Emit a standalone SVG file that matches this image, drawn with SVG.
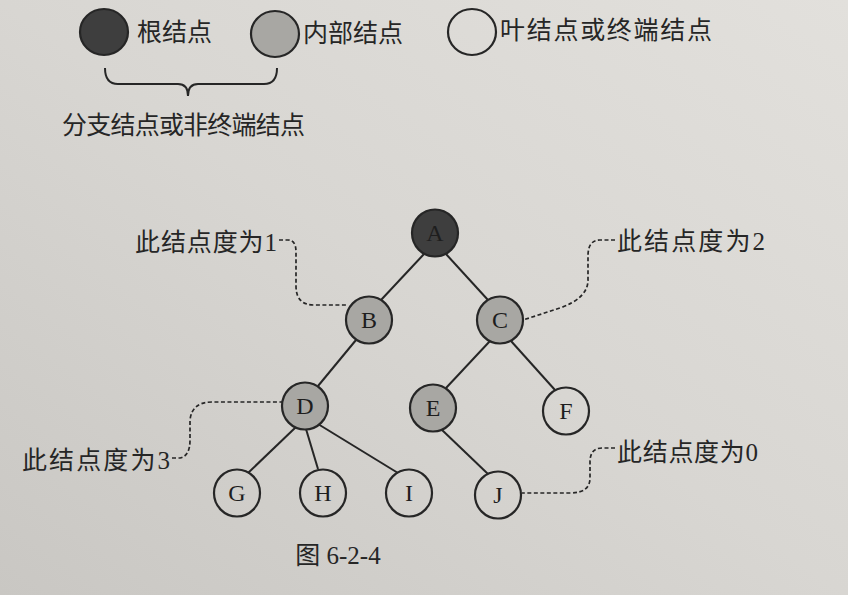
<svg xmlns="http://www.w3.org/2000/svg" width="848" height="595" viewBox="0 0 848 595">
<defs>
<linearGradient id="bg" x1="0" y1="1" x2="1" y2="0">
<stop offset="0" stop-color="#c9c7c3"/>
<stop offset="0.5" stop-color="#d8d6d2"/>
<stop offset="1" stop-color="#e2e0dc"/>
</linearGradient>
<style>
.n{stroke:#262626;stroke-width:2.2}
.root{fill:#3e3e3e}
.inner{fill:#a8a7a3}
.leaf{fill:none}
.lbl{font-family:"Liberation Serif","Noto Sans CJK SC",serif;font-size:24px;fill:#1e1e1e;text-anchor:middle}
.cjk{font-family:"Noto Sans CJK SC",sans-serif;font-size:25px;fill:#262626}
.deg{font-family:"Liberation Serif","Noto Sans CJK SC",serif;font-size:25px;fill:#262626}
.e{stroke:#262626;stroke-width:2;fill:none}
.d{stroke:#262626;stroke-width:1.7;fill:none;stroke-dasharray:4 2.5}
</style>
</defs>
<rect width="848" height="595" fill="url(#bg)"/>

<g id="legend">
<ellipse class="n root" cx="104" cy="32" rx="24" ry="23"/>
<text class="cjk" x="137" y="41">根结点</text>
<ellipse class="n inner" cx="275" cy="34" rx="24" ry="23"/>
<text class="cjk" x="303" y="42">内部结点</text>
<ellipse class="n leaf" cx="472" cy="32" rx="24" ry="23"/>
<text class="cjk" x="500" y="39" textLength="212">叶结点或终端结点</text>
<path class="e" stroke-width="1.6" d="M105,68 Q105,84 118,84 L178,84 Q188,84 188,96 Q188,84 198,84 L264,84 Q277,84 277,68"/>
<text class="cjk" x="62" y="134" textLength="243">分支结点或非终端结点</text>
</g>

<g id="connectors">
<line class="e" x1="424" y1="254" x2="381" y2="300"/>
<line class="e" x1="446" y1="254" x2="488" y2="300"/>
<line class="e" x1="356" y1="340" x2="318" y2="386"/>
<line class="e" x1="490" y1="341" x2="446" y2="388"/>
<line class="e" x1="511" y1="341" x2="555" y2="390"/>
<line class="e" x1="296" y1="427" x2="248" y2="473"/>
<line class="e" x1="306" y1="429" x2="318" y2="469"/>
<line class="e" x1="318" y1="424" x2="398" y2="473"/>
<line class="e" x1="441" y1="429" x2="488" y2="474"/>
<path class="d" d="M279,240 L288,240 Q296,240 296,252 L296,286 Q296,305 314,305 L346,305"/>
<path class="d" d="M615,240 L600,240 Q588,240 588,256 L588,280 Q588,298 560,308 L523,320"/>
<path class="d" d="M172,458 L180,458 Q190,456 190,440 L190,420 Q192,402 212,402 L282,402"/>
<path class="d" d="M615,448 L602,448 Q590,448 590,462 L590,478 Q590,493 570,493 L522,493"/>
</g>

<g id="A"><ellipse class="n root" cx="435" cy="233" rx="23" ry="23.5"/><text class="lbl" x="435" y="241">A</text></g>
<g id="B"><ellipse class="n inner" cx="369" cy="320" rx="23" ry="23.5"/><text class="lbl" x="369" y="328">B</text></g>
<g id="C"><ellipse class="n inner" cx="500" cy="320" rx="23" ry="23.5"/><text class="lbl" x="500" y="328">C</text></g>
<g id="D"><ellipse class="n inner" cx="305" cy="406" rx="23" ry="23.5"/><text class="lbl" x="305" y="414">D</text></g>
<g id="E"><ellipse class="n inner" cx="433" cy="408" rx="23" ry="23.5"/><text class="lbl" x="433" y="416">E</text></g>
<g id="F"><ellipse class="n leaf" cx="566" cy="411" rx="23" ry="23.5"/><text class="lbl" x="566" y="419">F</text></g>
<g id="G"><ellipse class="n leaf" cx="237" cy="493" rx="23" ry="23.5"/><text class="lbl" x="237" y="501">G</text></g>
<g id="H"><ellipse class="n leaf" cx="323" cy="493" rx="23" ry="23.5"/><text class="lbl" x="323" y="501">H</text></g>
<g id="I"><ellipse class="n leaf" cx="409" cy="493" rx="23" ry="23.5"/><text class="lbl" x="409" y="501">I</text></g>
<g id="J"><ellipse class="n leaf" cx="498" cy="495" rx="23" ry="23.5"/><text class="lbl" x="498" y="503">J</text></g>

<g id="labels">
<text class="deg" x="135" y="251" textLength="142">此结点度为1</text>
<text class="deg" x="617" y="250" textLength="148">此结点度为2</text>
<text class="deg" x="22" y="469" textLength="148">此结点度为3</text>
<text class="deg" x="617" y="461" textLength="141">此结点度为0</text>
<text class="deg" x="338" y="564" text-anchor="middle" font-size="24">图 6-2-4</text>
</g>
</svg>
